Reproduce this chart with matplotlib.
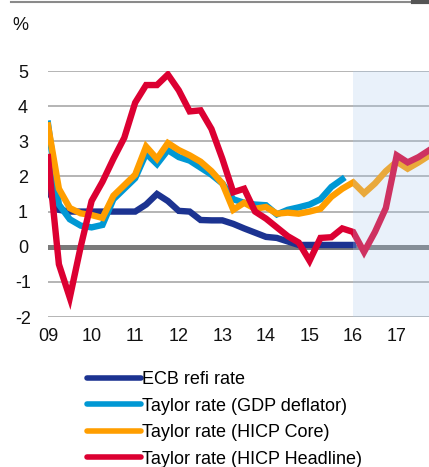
import numpy as np
import matplotlib
matplotlib.use("Agg")
import matplotlib.pyplot as plt
from matplotlib.lines import Line2D

plt.rcParams['font.family'] = ['Liberation Sans', 'DejaVu Sans']
plt.rcParams['axes.unicode_minus'] = False

# quarterly observations, 2009Q1 onwards
start_year = 2009.0

ecb_refi = [1.6, 1.05, 1.0, 1.0, 1.0, 1.0, 1.0, 1.0,
            1.0, 1.2, 1.5, 1.3, 1.02, 1.0, 0.76, 0.75,
            0.75, 0.65, 0.52, 0.4, 0.28, 0.25, 0.15, 0.05,
            0.05, 0.05, 0.05, 0.05, 0.05]

taylor_gdp = [3.5, 1.2, 0.78, 0.6, 0.55, 0.62, 1.35, 1.65,
              1.95, 2.65, 2.35, 2.75, 2.55, 2.45, 2.25, 2.05,
              1.8, 1.35, 1.25, 1.2, 1.18, 0.92, 1.05, 1.12,
              1.2, 1.35, 1.7, 1.92]

taylor_core = [3.45, 1.65, 1.1, 0.95, 0.9, 0.82, 1.45, 1.75,
               2.05, 2.85, 2.5, 2.95, 2.75, 2.6, 2.42, 2.15,
               1.8, 1.05, 1.25, 1.08, 1.13, 0.94, 0.97, 0.94,
               1.0, 1.08, 1.42, 1.65, 1.83, 1.52, 1.8, 2.15,
               2.42, 2.22, 2.4, 2.6]

taylor_headline = [2.55, -0.5, -1.45, 0.0, 1.3, 1.85, 2.5, 3.1,
                   4.1, 4.6, 4.6, 4.9, 4.45, 3.85, 3.88, 3.35,
                   2.5, 1.55, 1.65, 1.0, 0.8, 0.55, 0.3, 0.12,
                   -0.4, 0.25, 0.27, 0.52, 0.42, -0.15, 0.42, 1.1,
                   2.6, 2.4, 2.55, 2.75]

year_labels = ['09', '10', '11', '12', '13', '14', '15', '16', '17']
forecast_start = 2016.0
x_end = 2017.74


def quarters(vals):
    return start_year + 0.25 * np.arange(len(vals))


fig = plt.figure(figsize=(4.29, 4.67), dpi=100)
ax = fig.add_axes([48 / 429, 1 - 317 / 467, 1 - 48 / 429, 246 / 467])

# grid
for yv in [-2, -1, 1, 2, 3, 4, 5]:
    ax.axhline(yv, color='#a0a0a0', lw=1.1, zorder=1)
ax.axhline(0, color='#7a7a7a', lw=3.6, zorder=1.5)

lw = 4.6
ax.plot(quarters(ecb_refi), ecb_refi, color='#1c3391', lw=lw, zorder=2,
        solid_joinstyle='miter', label='ECB refi rate')
ax.plot(quarters(taylor_gdp), taylor_gdp, color='#0098d4', lw=lw, zorder=3,
        solid_joinstyle='miter', label='Taylor rate (GDP deflator)')
ax.plot(quarters(taylor_core), taylor_core, color='#ff9e00', lw=lw, zorder=4,
        solid_joinstyle='miter', label='Taylor rate (HICP Core)')
ax.plot(quarters(taylor_headline), taylor_headline, color='#dc0032', lw=lw, zorder=5,
        solid_joinstyle='miter', label='Taylor rate (HICP Headline)')

# forecast shading, on top of the lines
ax.axvspan(forecast_start, x_end, ymin=0, ymax=1, color='#a8cbee', alpha=0.25,
           lw=0, zorder=6)

ax.set_xlim(start_year, x_end)
ax.set_ylim(-2, 5)
ax.set_xticks(np.arange(2009, 2018))
ax.set_xticklabels(year_labels)
ax.set_yticks(np.arange(-2, 6))
ax.tick_params(length=0, labelsize=13, colors='#111111', pad=8)
ax.tick_params(axis='y', pad=18)
for lab in ax.get_yticklabels():
    lab.set_horizontalalignment('center')
for s in ax.spines.values():
    s.set_visible(False)
ax.patch.set_alpha(0)

fig.text(12 / 429, 1 - 25 / 467, '%', fontsize=13, va='center', ha='left', color='#111111')

# top rule
fig.add_artist(Line2D([11 / 429, 413 / 429], [1 - 2 / 467, 1 - 2 / 467],
                      color='#8a8a8a', lw=1.5))
fig.add_artist(Line2D([413 / 429, 429 / 429], [1 - 2 / 467, 1 - 2 / 467],
                      color='#555555', lw=3))

handles, labels = ax.get_legend_handles_labels()
leg = fig.legend(handles, labels, loc='upper left',
                 bbox_to_anchor=(78 / 429, 1 - 362 / 467), frameon=False,
                 fontsize=13, handlelength=3.0, handletextpad=0.05,
                 labelspacing=0.53, borderpad=0)
for h in leg.get_lines():
    h.set_linewidth(4.0)
    h.set_solid_capstyle('round')

fig.savefig('out.png', dpi=100)
